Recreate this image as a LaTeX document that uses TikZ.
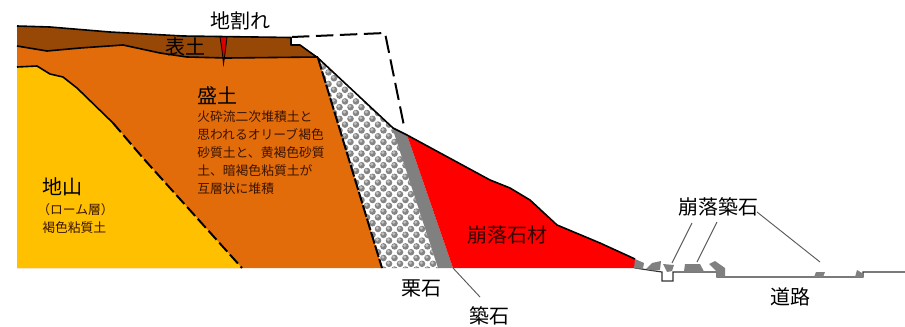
\documentclass[tikz,border=0pt]{standalone}
\usepackage{xcolor}
\usepackage{fontspec}
\setmainfont{Noto Sans CJK JP}
\usetikzlibrary{arrows.meta,positioning}
\definecolor{loam}{HTML}{FFC000}
\definecolor{fillsoil}{HTML}{E36C0A}
\definecolor{topsoil}{HTML}{984806}
\definecolor{stonegray}{HTML}{808080}
\definecolor{noteink}{HTML}{3A1400}

\begin{document}
\begin{tikzpicture}[
  x=0.75pt, y=-0.75pt,
  big/.style={font=\fontsize{15}{18}\selectfont, inner sep=0pt},
  small/.style={font=\fontsize{9.6}{13.4}\selectfont, text=noteink, align=left, inner sep=0pt},
  outline/.style={black, line width=1.2pt, line join=round},
  cut/.style={black, line width=1.5pt, dash pattern=on 9pt off 3pt},
  lead/.style={black!65, line width=0.7pt},
  block/.style={fill=stonegray}
]
\useasboundingbox (0,0) rectangle (905,326);

% soil layers
\fill[fillsoil] (17,46) -- (47,51) -- (80,48) -- (123,45) -- (160,53) -- (187,57) -- (227,58) -- (318,57) -- (382,268) -- (17,268) -- cycle;
\fill[loam] (17,67) -- (37,66) -- (50,74) -- (63,77) -- (77,88) -- (113,123) -- (143,158) -- (242,268) -- (17,268) -- cycle;
\fill[topsoil] (17,26) -- (50,27) -- (110,32) -- (183,36) -- (291,37.5) -- (291,45) -- (300,45) -- (318,57) -- (227,58) -- (187,57) -- (160,53) -- (123,45) -- (80,48) -- (47,51) -- (17,46) -- cycle;

% pebble fill behind the facing
\begin{scope}
  \clip (318,58) -- (393,128) -- (438,268) -- (382,268) -- cycle;
  \foreach \row in {0,...,37} {
    \foreach \col in {0,...,12} {
      \pgfmathsetmacro{\px}{312+\col*11+mod(\row,2)*5.5}
      \pgfmathsetmacro{\py}{55+\row*5.8}
      \fill[black!48] (\px,\py) circle[radius=3.3];
      \fill[black!25] (\px-0.7,\py-1) circle[radius=1.7];
    }
  }
\end{scope}

% facing stones and collapsed stone
\fill[stonegray] (392,127) -- (407,135) -- (453,268) -- (438,268) -- cycle;
\fill[red] (407,135) -- (490,180) -- (510,188) -- (530,200) -- (557,225) -- (600,243) -- (635,259) -- (635,268) -- (453,268) -- cycle;

% crack
\fill[red!85!black] (220,37) -- (227,37) -- (225.5,50) -- (223.5,64) -- (222,50) -- cycle;
\draw[black, line width=0.6pt] (220,37) -- (222,50) -- (223.5,64) -- (225.5,50) -- (227,37);

% outlines
\draw[outline] (17,26) -- (50,27) -- (110,32) -- (183,36) -- (291,37.5) -- (291,45) -- (300,45) -- (318,58) -- (393,128) -- (407,135) -- (490,180) -- (510,188) -- (530,200) -- (557,225) -- (600,243) -- (635,259);
\draw[outline] (17,46) -- (47,51) -- (80,48) -- (123,45) -- (160,53) -- (187,57) -- (227,58) -- (318,57);
\draw[outline] (17,67) -- (37,66) -- (50,74) -- (63,77) -- (77,88) -- (113,123);
\draw[cut] (113,123) -- (143,158) -- (242,268);
\draw[cut, dash pattern=on 9pt off 1.5pt] (318,58) -- (382,268);
\draw[cut, dash pattern=on 13pt off 5pt] (292,37) -- (385,33) -- (404,126);

% ground beyond the toe
\draw[black!80, line width=0.9pt] (635,268) -- (662,272) -- (662,281) -- (673,281) -- (673,272) -- (717,272) -- (717,277) -- (863,277) -- (863,272) -- (905,272);

% fallen stones
\fill[block] (635,259) -- (644,263) -- (643,268.5) -- (634,268.5) -- cycle;
\fill[block] (646,269) -- (652,263) -- (661,261) -- (660,270) -- (653,270.5) -- cycle;
\fill[block] (663,264) -- (674,265) -- (672,271) -- (667,272) -- cycle;
\fill[block] (685,264) -- (700,264) -- (704,271.5) -- (684,271.5) -- cycle;
\fill[block] (709,264) -- (715,261) -- (725,268) -- (725,277) -- (717,277) -- (716,271) -- cycle;
\fill[block] (816,272) -- (825,272) -- (823,277) -- (814,277) -- cycle;
\fill[block] (857,270) -- (862,273) -- (863,277) -- (855,277) -- cycle;

% labels
\node[big] (crack) at (240,21) {地割れ};
\node[big] (surface) at (185,47) {表土};
\node[big] (embank) at (217,96) {盛土};
\node[small, anchor=north west] (embanknote) at (197,110.5) {火砕流二次堆積土と\\思われるオリーブ褐色\\砂質土と、黄褐色砂質\\土、暗褐色粘質土が\\互層状に堆積};
\node[big] (base) at (62,187) {地山};
\node[small, anchor=north west] (basenote) at (42,203) {\hspace*{-3.75pt}（ローム層）\\褐色粘質土};
\node[big, text=black!80!red] (rubble) at (507,235) {崩落石材};
\node[big] (pebble) at (421,288) {栗石};
\node[big] (facing) at (489,316) {築石};
\node[big] (fallen) at (718,207) {崩落築石};
\node[big] (road) at (790,297) {道路};

% leader lines
\coordinate (facingfoot) at (453,268);
\coordinate (facingtip) at (480,297);
\coordinate (fallena) at (672,263);
\coordinate (fallenb) at (697,262);
\coordinate (fallenc) at (820,262);
\coordinate (fallenastart) at (692,223);
\coordinate (fallenbstart) at (717,222);
\coordinate (fallencstart) at (757,212);
\draw[lead] (facingfoot) -- (facingtip);
\draw[lead] (fallenastart) -- (fallena);
\draw[lead] (fallenbstart) -- (fallenb);
\draw[lead] (fallencstart) -- (fallenc);
\end{tikzpicture}
\end{document}
